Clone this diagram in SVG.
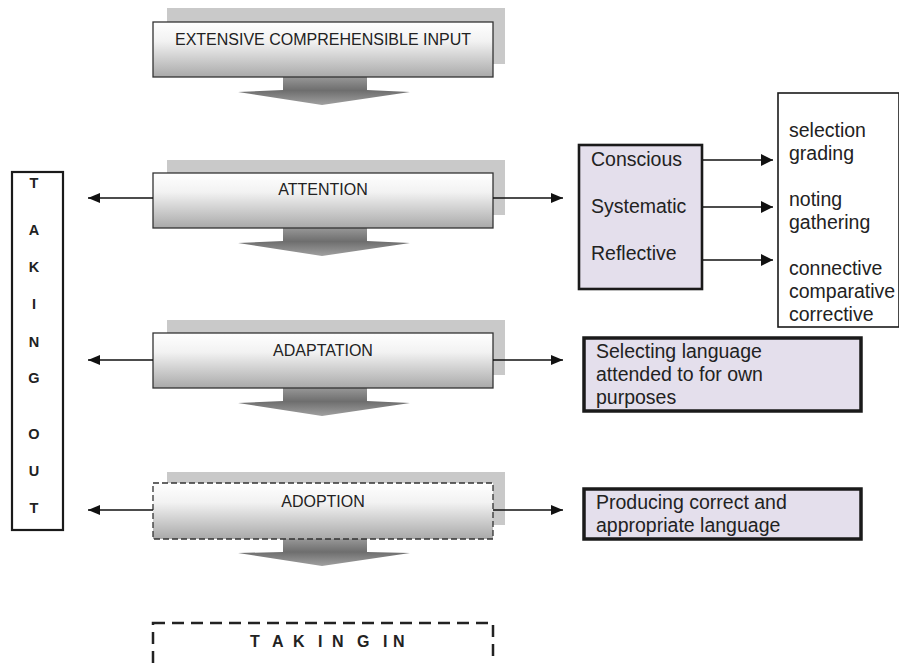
<svg xmlns="http://www.w3.org/2000/svg" width="899" height="663" viewBox="0 0 899 663">
<defs>
<linearGradient id="boxg" x1="0" y1="0" x2="0" y2="1">
<stop offset="0" stop-color="#ffffff"/><stop offset="0.35" stop-color="#f2f2f2"/><stop offset="1" stop-color="#a9a9a9"/>
</linearGradient>
<linearGradient id="arrg" x1="0" y1="0" x2="0" y2="1">
<stop offset="0" stop-color="#9a9a9a"/><stop offset="0.5" stop-color="#6e6e6e"/><stop offset="1" stop-color="#a0a0a0"/>
</linearGradient>
<marker id="ah" viewBox="0 0 12 10" refX="12" refY="5" markerWidth="12" markerHeight="10" markerUnits="userSpaceOnUse" orient="auto">
<path d="M0,0 L12,5 L0,10 z" fill="#111"/>
</marker>
<marker id="ah2" viewBox="0 0 12 12" refX="12" refY="6" markerWidth="12" markerHeight="12" markerUnits="userSpaceOnUse" orient="auto">
<path d="M0,0 L12,6 L0,12 z" fill="#111"/>
</marker>
</defs>
<style>
.shadow{fill:#c9c9c9}
.box{fill:url(#boxg);stroke:#333;stroke-width:1.3}
.dash{stroke-dasharray:6 3}
.arr{fill:url(#arrg)}
.t{font-family:"Liberation Sans",Arial,sans-serif;fill:#222}
.mt{font-size:16px;text-anchor:middle}
.bt{font-size:19.5px}
.lt{font-size:14.5px;font-weight:bold;text-anchor:middle}
.conn{stroke:#111;stroke-width:1.3;fill:none}
.purple{fill:#e4dfec;stroke:#1a1a1a}
</style>

<g id="tin">
<rect x="153" y="623" width="340" height="60" fill="none" stroke="#222" stroke-width="2.5" stroke-dasharray="12 7"/>
<text class="t" x="250 272 293 318 332 357 370 383 393" y="647" font-size="16" font-weight="bold">TAKING IN</text>
</g>

<g id="input">
<rect class="shadow" x="167" y="8" width="338" height="56"/>
<polygon class="arr" points="283,76 367,76 367,90 410,92 322,105 238,92 283,90"/>
<rect class="box" x="153" y="22" width="340" height="55"/>
<text class="t mt" x="323" y="45">EXTENSIVE COMPREHENSIBLE INPUT</text>
</g>

<g id="attention">
<rect class="shadow" x="167" y="160" width="338" height="55"/>
<polygon class="arr" points="283,227 367,227 367,241 410,243 322,256 238,243 283,241"/>
<rect class="box" x="153" y="173" width="340" height="55"/>
<text class="t mt" x="323" y="195">ATTENTION</text>
</g>

<g id="adaptation">
<rect class="shadow" x="167" y="320" width="338" height="55"/>
<polygon class="arr" points="283,387 367,387 367,401 410,403 322,416 238,403 283,401"/>
<rect class="box" x="153" y="333" width="340" height="55"/>
<text class="t mt" x="323" y="356">ADAPTATION</text>
</g>

<g id="adoption">
<rect class="shadow" x="167" y="472" width="338" height="53"/>
<polygon class="arr" points="283,538 367,538 367,552 410,553 322,566 238,553 283,552"/>
<rect class="box dash" x="153" y="483" width="340" height="56"/>
<text class="t mt" x="323" y="507">ADOPTION</text>
</g>

<g id="takingout">
<rect x="12" y="172" width="51" height="358" fill="#fff" stroke="#1a1a1a" stroke-width="2.2"/>
<text class="t lt" x="34" y="188">T</text>
<text class="t lt" x="34" y="235">A</text>
<text class="t lt" x="34" y="272">K</text>
<text class="t lt" x="34" y="309">I</text>
<text class="t lt" x="34" y="347">N</text>
<text class="t lt" x="34" y="383">G</text>
<text class="t lt" x="34" y="439">O</text>
<text class="t lt" x="34" y="476">U</text>
<text class="t lt" x="34" y="513">T</text>
</g>

<g id="csr">
<rect class="purple" x="579" y="145" width="123" height="144" stroke-width="2.6"/>
<text class="t bt" x="591" y="166">Conscious</text>
<text class="t bt" x="591" y="213">Systematic</text>
<text class="t bt" x="591" y="260">Reflective</text>
</g>

<g id="list">
<rect x="778" y="93" width="121" height="234" fill="#fff" stroke="#1a1a1a" stroke-width="1.6"/>
<text class="t bt" x="789" y="137">selection</text>
<text class="t bt" x="789" y="160">grading</text>
<text class="t bt" x="789" y="206">noting</text>
<text class="t bt" x="789" y="229">gathering</text>
<text class="t bt" x="789" y="275">connective</text>
<text class="t bt" x="789" y="298">comparative</text>
<text class="t bt" x="789" y="321">corrective</text>
</g>

<g id="selecting">
<rect class="purple" x="584" y="338" width="277" height="73" stroke-width="3.5"/>
<text class="t bt" x="596" y="358">Selecting language</text>
<text class="t bt" x="596" y="381">attended to for own</text>
<text class="t bt" x="596" y="404">purposes</text>
</g>

<g id="producing">
<rect class="purple" x="584" y="489" width="277" height="50" stroke-width="3.5"/>
<text class="t bt" x="596" y="509">Producing correct and</text>
<text class="t bt" x="596" y="532">appropriate language</text>
</g>

<g id="connectors">
<line class="conn" x1="153" y1="198" x2="88" y2="198" marker-end="url(#ah)"/>
<line class="conn" x1="153" y1="360" x2="88" y2="360" marker-end="url(#ah)"/>
<line class="conn" x1="153" y1="510" x2="88" y2="510" marker-end="url(#ah)"/>
<line class="conn" x1="493" y1="198" x2="563" y2="198" marker-end="url(#ah)"/>
<line class="conn" x1="493" y1="360" x2="563" y2="360" marker-end="url(#ah)"/>
<line class="conn" x1="493" y1="510" x2="563" y2="510" marker-end="url(#ah)"/>
<line class="conn" x1="703" y1="160" x2="773" y2="160" stroke-width="2" marker-end="url(#ah2)"/>
<line class="conn" x1="703" y1="207" x2="773" y2="207" stroke-width="2" marker-end="url(#ah2)"/>
<line class="conn" x1="703" y1="260" x2="773" y2="260" stroke-width="1.3" marker-end="url(#ah2)"/>
</g>
</svg>
